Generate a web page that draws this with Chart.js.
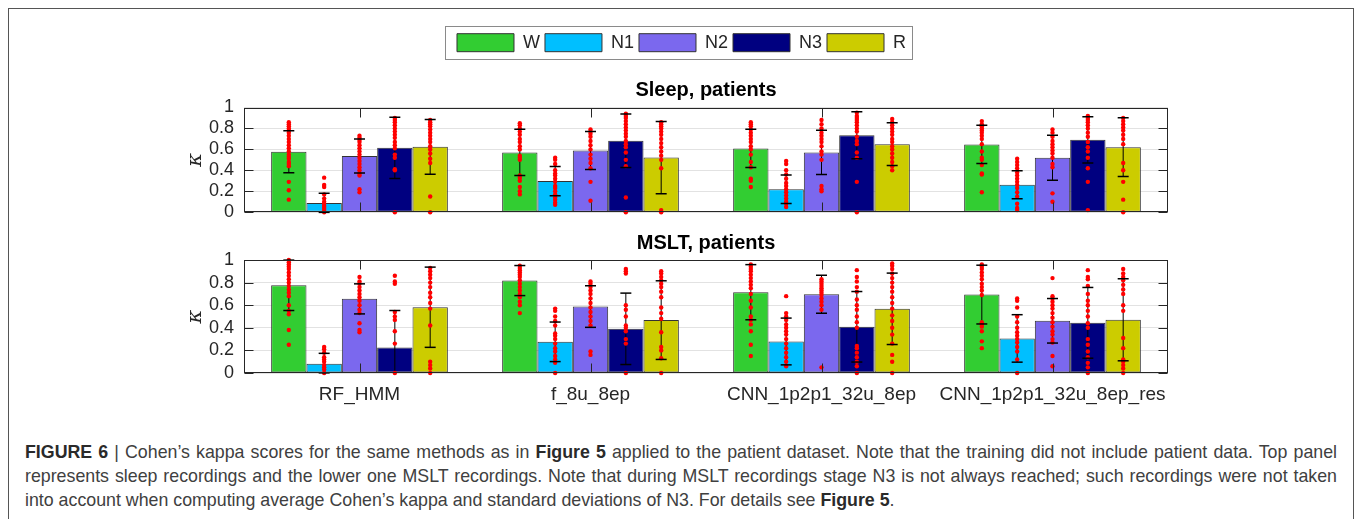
<!DOCTYPE html>
<html>
<head>
<meta charset="utf-8">
<script src="https://cdn.jsdelivr.net/npm/chart.js@4.4.0/dist/chart.umd.min.js"></script>
<style>
  body { margin: 0; width: 1358px; height: 519px; overflow: hidden; position: relative; background: #fff; font-family: "Liberation Sans", Arial, sans-serif; }
  #frame { position: absolute; left: 8px; top: 8px; width: 1346px; height: 540px; border: 1px solid #555; box-sizing: border-box; }
  canvas { position: absolute; left: 0; }
  #sleepChart { top: 0; }
  #msltChart { top: 222px; }
  .cap { position: absolute; left: 25px; width: 1312px; font-size: 17.8px; line-height: 24px; color: #404040; white-space: nowrap; text-align: justify; text-align-last: justify; }
  .cap b { color: #2a2a2a; }
  .l3 { text-align-last: left; }
</style>
</head>
<body>
<div id="frame"></div>
<canvas id="sleepChart" width="1358" height="233"></canvas>
<canvas id="msltChart" width="1358" height="190"></canvas>
<div class="cap" style="top:440px"><b>FIGURE 6</b> | Cohen’s kappa scores for the same methods as in <b>Figure 5</b> applied to the patient dataset. Note that the training did not include patient data. Top panel</div>
<div class="cap" style="top:464px">represents sleep recordings and the lower one MSLT recordings. Note that during MSLT recordings stage N3 is not always reached; such recordings were not taken</div>
<div class="cap l3" style="top:488px">into account when computing average Cohen’s kappa and standard deviations of N3. For details see <b>Figure 5</b>.</div>
<script>
const methods = ['RF_HMM', 'f_8u_8ep', 'CNN_1p2p1_32u_8ep', 'CNN_1p2p1_32u_8ep_res'];
const stages = ['W', 'N1', 'N2', 'N3', 'R'];
const yTicks = [0, 0.2, 0.4, 0.6, 0.8, 1];
const yTickLabels = ['0', '0.2', '0.4', '0.6', '0.8', '1'];

// mean kappa per stage (rows) and method (columns)
const sleepMean = [
    [0.577, 0.571, 0.609, 0.647],
    [0.087, 0.297, 0.219, 0.262],
    [0.536, 0.589, 0.571, 0.519],
    [0.615, 0.682, 0.735, 0.691],
    [0.624, 0.522, 0.650, 0.621]
];
const sleepSd = [
    [0.200, 0.221, 0.183, 0.183],
    [0.093, 0.140, 0.137, 0.134],
    [0.162, 0.181, 0.212, 0.215],
    [0.292, 0.255, 0.225, 0.220],
    [0.262, 0.345, 0.205, 0.280]
];
const msltMean = [
    [0.776, 0.818, 0.715, 0.694],
    [0.082, 0.276, 0.279, 0.306],
    [0.656, 0.588, 0.697, 0.462],
    [0.226, 0.391, 0.409, 0.444],
    [0.582, 0.468, 0.568, 0.471]
];
const msltSd = [
    [0.223, 0.133, 0.244, 0.260],
    [0.092, 0.175, 0.207, 0.210],
    [0.133, 0.184, 0.168, 0.197],
    [0.327, 0.316, 0.312, 0.313],
    [0.355, 0.348, 0.316, 0.363]
];

// single recordings (red dots)
const sleepDots = [
    [[0.86,0.84,0.82,0.80,0.78,0.76,0.73,0.70,0.67,0.64,0.61,0.58,0.55,0.53,0.51,0.48,0.46,0.44,0.29,0.21,0.12],
     [0.85,0.83,0.80,0.77,0.74,0.70,0.67,0.63,0.60,0.54,0.52,0.50,0.35,0.33,0.30,0.24,0.20,0.17],
     [0.86,0.84,0.82,0.79,0.76,0.73,0.70,0.67,0.63,0.60,0.55,0.48,0.43,0.32,0.30,0.24],
     [0.87,0.84,0.82,0.80,0.78,0.76,0.73,0.70,0.65,0.58,0.52,0.50,0.45,0.37,0.36,0.19]],
    [[0.33,0.26,0.24,0.17,0.13,0.10,0.08,0.06,0.04,0.02,0.00],
     [0.52,0.50,0.46,0.40,0.37,0.35,0.32,0.29,0.25,0.23,0.20,0.17,0.14,0.12,0.09,0.07],
     [0.49,0.46,0.40,0.36,0.32,0.28,0.25,0.22,0.19,0.16,0.13,0.10,0.08,0.05],
     [0.51,0.48,0.45,0.42,0.38,0.35,0.32,0.29,0.26,0.23,0.19,0.15,0.08,0.04,0.02]],
    [[0.73,0.71,0.69,0.67,0.64,0.61,0.58,0.55,0.52,0.49,0.46,0.43,0.40,0.37,0.35,0.22,0.19],
     [0.79,0.77,0.75,0.72,0.68,0.64,0.60,0.55,0.51,0.47,0.42,0.29,0.11],
     [0.88,0.84,0.80,0.76,0.73,0.70,0.67,0.63,0.58,0.55,0.50,0.25,0.22,0.20],
     [0.79,0.76,0.72,0.68,0.65,0.62,0.59,0.56,0.52,0.46,0.43,0.18,0.10]],
    [[0.90,0.88,0.86,0.83,0.80,0.77,0.74,0.71,0.67,0.64,0.61,0.55,0.52,0.41,0.40,0.00],
     [0.94,0.92,0.90,0.87,0.84,0.81,0.78,0.75,0.72,0.68,0.65,0.62,0.57,0.50,0.44,0.14,0.00],
     [0.95,0.92,0.90,0.88,0.86,0.83,0.80,0.77,0.72,0.68,0.65,0.57,0.52,0.29,0.00],
     [0.92,0.90,0.88,0.86,0.83,0.80,0.76,0.72,0.67,0.62,0.58,0.52,0.42,0.29,0.02]],
    [[0.88,0.86,0.84,0.82,0.79,0.76,0.73,0.70,0.67,0.63,0.60,0.56,0.51,0.47,0.15,0.00],
     [0.86,0.84,0.82,0.80,0.77,0.74,0.70,0.66,0.62,0.58,0.54,0.50,0.42,0.02,0.00],
     [0.89,0.86,0.83,0.80,0.77,0.74,0.70,0.67,0.63,0.60,0.56,0.52,0.48,0.44,0.40],
     [0.90,0.87,0.84,0.81,0.78,0.74,0.70,0.65,0.47,0.40,0.29,0.12,0.00]]
];
const msltDots = [
    [[1.00,0.98,0.96,0.94,0.92,0.89,0.86,0.83,0.80,0.77,0.74,0.71,0.68,0.60,0.55,0.52,0.38,0.25],
     [0.95,0.93,0.91,0.89,0.87,0.85,0.82,0.79,0.76,0.73,0.70,0.67,0.63,0.60,0.53],
     [0.96,0.94,0.92,0.90,0.87,0.84,0.81,0.78,0.75,0.70,0.64,0.58,0.50,0.47,0.43,0.37,0.25,0.15],
     [0.96,0.94,0.92,0.89,0.86,0.83,0.79,0.76,0.73,0.69,0.45,0.43,0.41,0.37,0.28,0.22]],
    [[0.23,0.21,0.18,0.14,0.12,0.10,0.07,0.05,0.03,0.00],
     [0.57,0.55,0.50,0.46,0.42,0.35,0.33,0.30,0.26,0.22,0.19,0.15,0.12,0.09,0.00],
     [0.68,0.53,0.50,0.47,0.43,0.40,0.37,0.34,0.30,0.26,0.22,0.18,0.14,0.10,0.06],
     [0.66,0.64,0.58,0.50,0.45,0.40,0.36,0.33,0.30,0.27,0.23,0.19,0.12,0.00]],
    [[0.85,0.81,0.79,0.76,0.73,0.70,0.67,0.64,0.60,0.56,0.53,0.44,0.38,0.36],
     [0.81,0.79,0.76,0.73,0.70,0.66,0.62,0.58,0.54,0.50,0.46,0.42,0.19,0.16],
     [0.83,0.81,0.79,0.77,0.75,0.73,0.71,0.69,0.66,0.63,0.60,0.56,0.05],
     [0.84,0.68,0.66,0.63,0.60,0.57,0.53,0.49,0.45,0.41,0.37,0.34,0.30,0.27,0.15,0.06]],
    [[0.86,0.81,0.79,0.54,0.50,0.47,0.37,0.26,0.00],
     [0.92,0.90,0.88,0.60,0.56,0.50,0.42,0.40,0.37,0.30,0.26,0.00],
     [0.91,0.85,0.81,0.76,0.72,0.65,0.60,0.56,0.50,0.45,0.40,0.24,0.22,0.18,0.14,0.10,0.06,0.00],
     [0.91,0.85,0.83,0.77,0.70,0.64,0.60,0.55,0.50,0.44,0.40,0.30,0.25,0.19,0.14,0.09,0.05,0.00]],
    [[0.93,0.90,0.87,0.84,0.80,0.76,0.71,0.67,0.62,0.57,0.42,0.10,0.07,0.04,0.00],
     [0.90,0.88,0.85,0.82,0.79,0.76,0.72,0.67,0.58,0.53,0.48,0.36,0.23,0.20,0.13,0.00],
     [0.97,0.95,0.92,0.88,0.84,0.80,0.76,0.72,0.67,0.62,0.57,0.51,0.46,0.40,0.34,0.26,0.16,0.10,0.00],
     [0.92,0.88,0.85,0.82,0.78,0.74,0.70,0.60,0.55,0.31,0.22,0.12,0.10,0.07,0.04,0.00]]
];

const stageColors = ['#32cd32', '#00bfff', '#7b68ee', '#000080', '#cccc00'];
const FONT = '"Liberation Sans", Arial, sans-serif';
const AXIS = '#262626';

// error bars, dots, axes box and inward ticks (matlab look)
const extras = {
    id: 'extras',
    afterDatasetsDraw(chart) {
        const ctx = chart.ctx;
        const a = chart.chartArea;
        const ys = chart.scales.y;
        const xs = chart.scales.x;
        chart.data.datasets.forEach((ds, i) => {
            chart.getDatasetMeta(i).data.forEach((bar, j) => {
                const x = bar.x;
                const hi = ys.getPixelForValue(ds.data[j] + ds.sd[j]);
                const lo = ys.getPixelForValue(ds.data[j] - ds.sd[j]);
                ctx.save();
                ctx.beginPath();
                ctx.rect(a.left, a.top, a.right - a.left, a.bottom - a.top);
                ctx.clip();
                ctx.strokeStyle = '#000';
                ctx.lineWidth = 1;
                ctx.beginPath();
                ctx.moveTo(x, lo);
                ctx.lineTo(x, hi);
                ctx.stroke();
                ctx.restore();
                ctx.fillStyle = '#ff0000';
                ds.dots[j].forEach(v => {
                    ctx.beginPath();
                    ctx.arc(x, ys.getPixelForValue(v), 2.2, 0, 2 * Math.PI);
                    ctx.fill();
                });
                ctx.save();
                ctx.beginPath();
                ctx.rect(a.left, a.top - 1, a.right - a.left, a.bottom - a.top + 2);
                ctx.clip();
                ctx.strokeStyle = '#000';
                ctx.lineWidth = 1.5;
                [hi, lo].forEach(y => {
                    ctx.beginPath();
                    ctx.moveTo(x - 5.5, y);
                    ctx.lineTo(x + 5.5, y);
                    ctx.stroke();
                });
                ctx.restore();
            });
        });
        ctx.save();
        ctx.strokeStyle = AXIS;
        ctx.lineWidth = 1;
        const L = Math.round(a.left) + 0.5, R = Math.round(a.right) - 0.5;
        const T = Math.round(a.top) + 0.5, B = Math.round(a.bottom) - 0.5;
        ctx.strokeRect(L, T, R - L, B - T);
        ctx.beginPath();
        xs.ticks.forEach((t, k) => {
            const px = Math.round(xs.getPixelForTick(k)) + 0.5;
            ctx.moveTo(px, B); ctx.lineTo(px, B - 9);
            ctx.moveTo(px, T); ctx.lineTo(px, T + 9);
        });
        ys.ticks.forEach(t => {
            const py = Math.round(ys.getPixelForValue(t.value)) + 0.5;
            ctx.moveTo(L, py); ctx.lineTo(L + 9, py);
            ctx.moveTo(R, py); ctx.lineTo(R - 9, py);
        });
        ctx.stroke();
        ctx.restore();
    }
};

// border round the legend
const legendBox = {
    id: 'legendBox',
    afterDraw(chart) {
        const lg = chart.legend;
        if (!lg || !lg.options.display) return;
        const hb = lg.legendHitBoxes;
        const first = hb[0], last = hb[hb.length - 1];
        const x0 = Math.round(first.left - 12) + 0.5;
        const x1 = Math.round(last.left + last.width + 6) + 0.5;
        const y0 = Math.round(first.top - 8) + 0.5;
        const y1 = Math.round(first.top + first.height + 7) + 0.5;
        const ctx = chart.ctx;
        ctx.save();
        ctx.strokeStyle = '#8a8a8a';
        ctx.lineWidth = 1;
        ctx.strokeRect(x0, y0, x1 - x0, y1 - y0);
        ctx.restore();
    }
};

function panel(id, title, means, sds, dots, opts) {
    const datasets = stages.map((s, k) => ({
        label: s,
        data: means[k],
        sd: sds[k],
        dots: dots[k],
        backgroundColor: stageColors[k],
        borderColor: '#333',
        borderWidth: 1,
        borderSkipped: false,
        categoryPercentage: 0.765,
        barPercentage: 1
    }));
    return new Chart(document.getElementById(id), {
        type: 'bar',
        data: { labels: methods, datasets: datasets },
        options: {
            responsive: false,
            animation: false,
            layout: { padding: { top: opts.padTop, left: 195, right: 190, bottom: 0 } },
            plugins: {
                legend: {
                    display: opts.legend,
                    position: 'top',
                    weight: 3000,
                    onClick: null,
                    labels: { boxWidth: 57, boxHeight: 18, padding: 5, color: AXIS, font: { size: 18, family: FONT } }
                },
                title: {
                    display: true,
                    text: title,
                    fullSize: false,
                    color: '#000',
                    font: { size: 20, weight: 'bold', family: FONT },
                    padding: opts.titlePad
                },
                tooltip: { enabled: false }
            },
            scales: {
                x: {
                    grid: { display: false },
                    border: { display: false },
                    ticks: { display: opts.xLabels, color: AXIS, font: { size: 19, family: FONT }, padding: 2, maxRotation: 0, autoSkip: false },
                    afterFit: s => { s.height = opts.xHeight; }
                },
                y: {
                    min: 0,
                    max: 1,
                    afterBuildTicks: s => { s.ticks = yTicks.map(v => ({ value: v })); },
                    grid: { color: '#e2e2e2', drawTicks: false },
                    border: { display: false },
                    ticks: {
                        color: AXIS,
                        font: { size: 18, family: FONT },
                        padding: 10,
                        autoSkip: false,
                        callback: (v, k) => yTickLabels[k]
                    },
                    title: { display: true, text: 'κ', color: AXIS, font: { size: 21, style: 'italic', family: '"DejaVu Serif", serif' }, padding: { top: -12 } },
                    afterFit: s => { s.width = 49; }
                }
            }
        },
        plugins: [extras, legendBox]
    });
}

panel('sleepChart', 'Sleep, patients', sleepMean, sleepSd, sleepDots,
    { legend: true, padTop: 28.7, titlePad: { top: 16.3, bottom: 5.5 }, xLabels: false, xHeight: 11 });
panel('msltChart', 'MSLT, patients', msltMean, msltSd, msltDots,
    { legend: false, padTop: 0, titlePad: { top: 9, bottom: 5 }, xLabels: true, xHeight: 39 });
</script>
</body>
</html>
